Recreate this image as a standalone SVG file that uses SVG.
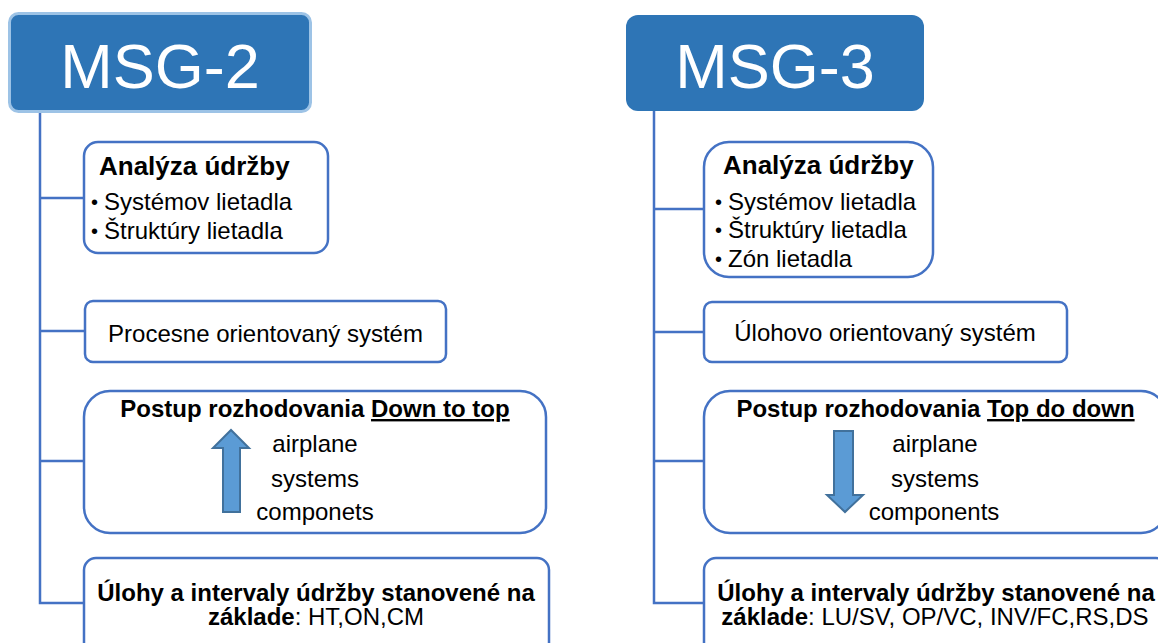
<svg xmlns="http://www.w3.org/2000/svg" width="1158" height="643" viewBox="0 0 1158 643">
  <style>
    .hdr { fill: #2E75B6; }
    .box { fill: #FFFFFF; stroke: #4472C4; stroke-width: 2.5; }
    .ln { fill: none; stroke: #4472C4; stroke-width: 2.5; }
    .arrow { fill: #5B9BD5; stroke: #41719C; stroke-width: 2; stroke-linejoin: miter; }
    text { font-family: "Liberation Sans", Arial, sans-serif; fill: #000000; }
    .title { font-size: 63px; fill: #FFFFFF; text-anchor: middle; }
    .b26 { font-size: 26px; font-weight: bold; }
    .b24 { font-size: 24px; font-weight: bold; }
    .r24 { font-size: 24px; }
    .dot { font-size: 20px; }
    .mid { text-anchor: middle; }
    .u { text-decoration: underline; }
  </style>

  <rect width="1158" height="643" fill="#FFFFFF"/>

  <!-- connectors: trunk lines and branches -->
  <g id="connectors">
    <path class="ln" d="M40 112 V603 H84 M40 198 H84 M40 331 H84 M40 461 H84"/>
    <path class="ln" d="M654 111 V603 H704 M654 209 H704 M654 332 H704 M654 461 H704"/>
  </g>

  <!-- MSG-2 column -->
  <g id="msg2-header">
    <rect class="hdr" x="9.5" y="13.5" width="301" height="98" rx="9" stroke="#9DC3E6" stroke-width="3"/>
    <text class="title" x="160" y="88">MSG-2</text>
  </g>

  <g id="msg2-analysis">
    <rect class="box" x="84" y="142" width="244" height="111" rx="14"/>
    <text class="b26" x="99" y="175">Analýza údržby</text>
    <text class="dot" x="91" y="209">•</text>
    <text class="r24" x="104" y="210">Systémov lietadla</text>
    <text class="dot" x="91" y="238">•</text>
    <text class="r24" x="104" y="239">Štruktúry lietadla</text>
  </g>

  <g id="msg2-process">
    <rect class="box" x="85" y="301" width="361" height="61" rx="8"/>
    <text class="r24 mid" x="265.5" y="342">Procesne orientovaný systém</text>
  </g>

  <g id="msg2-decision">
    <rect class="box" x="84" y="391" width="462" height="142" rx="26"/>
    <text class="b24 mid" x="315" y="417">Postup rozhodovania <tspan class="u">Down to top</tspan></text>
    <path class="arrow" d="M223 512 V448 H213 L231 430 L249 448 H240 V512 Z"/>
    <text class="r24 mid" x="315" y="452">airplane</text>
    <text class="r24 mid" x="315" y="487">systems</text>
    <text class="r24 mid" x="315" y="520">componets</text>
  </g>

  <g id="msg2-tasks">
    <rect class="box" x="84" y="558" width="465" height="110" rx="12"/>
    <text class="b24 mid" x="316" y="601">Úlohy a intervaly údržby stanovené na</text>
    <text class="r24 mid" x="316" y="625"><tspan font-weight="bold">základe</tspan>: HT,ON,CM</text>
  </g>

  <!-- MSG-3 column -->
  <g id="msg3-header">
    <rect class="hdr" x="626" y="15" width="298" height="96" rx="12"/>
    <text class="title" x="775" y="88">MSG-3</text>
  </g>

  <g id="msg3-analysis">
    <rect class="box" x="704" y="142" width="229" height="135" rx="25"/>
    <text class="b26" x="723" y="174">Analýza údržby</text>
    <text class="dot" x="715" y="209">•</text>
    <text class="r24" x="728" y="210">Systémov lietadla</text>
    <text class="dot" x="715" y="237">•</text>
    <text class="r24" x="728" y="238">Štruktúry lietadla</text>
    <text class="dot" x="715" y="266">•</text>
    <text class="r24" x="728" y="267">Zón lietadla</text>
  </g>

  <g id="msg3-task">
    <rect class="box" x="704" y="302" width="363" height="60" rx="8"/>
    <text class="r24 mid" x="885" y="341">Úlohovo orientovaný systém</text>
  </g>

  <g id="msg3-decision">
    <rect class="box" x="704" y="391" width="463" height="142" rx="26"/>
    <text class="b24 mid" x="935.5" y="417">Postup rozhodovania <tspan class="u">Top do down</tspan></text>
    <path class="arrow" d="M834 431 H853 V495 H863 L845 512 L827 495 H834 Z"/>
    <text class="r24 mid" x="935" y="452">airplane</text>
    <text class="r24 mid" x="935" y="487">systems</text>
    <text class="r24 mid" x="934" y="520">components</text>
  </g>

  <g id="msg3-tasks">
    <rect class="box" x="704" y="558" width="464" height="110" rx="12"/>
    <text class="b24 mid" x="936" y="601">Úlohy a intervaly údržby stanovené na</text>
    <text class="r24 mid" x="935" y="625"><tspan font-weight="bold">základe</tspan>: LU/SV, OP/VC, INV/FC,RS,DS</text>
  </g>
</svg>
